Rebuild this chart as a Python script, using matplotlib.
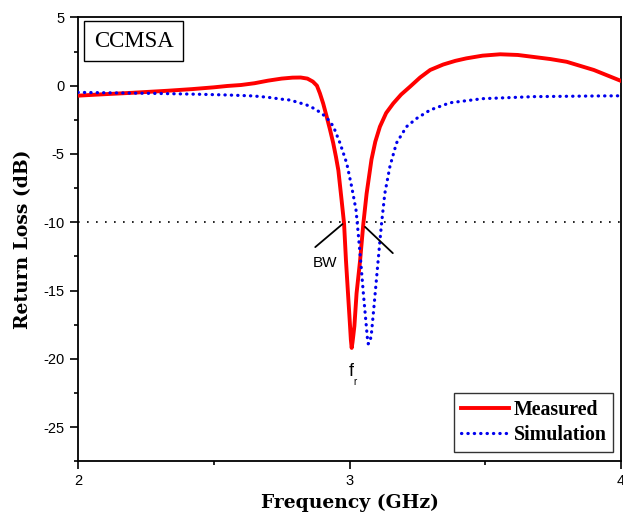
import matplotlib
matplotlib.use("Agg")
import matplotlib.pyplot as plt
from matplotlib.ticker import MultipleLocator

plt.rcParams["axes.unicode_minus"] = False

# Measured return loss (GHz, dB)
meas_f = [2.00, 2.10, 2.20, 2.33, 2.42, 2.50, 2.55, 2.60, 2.65, 2.70, 2.75, 2.79, 2.82,
          2.845, 2.865, 2.880, 2.891, 2.903, 2.916, 2.928, 2.940, 2.950, 2.959, 2.971, 2.980,
          2.987, 2.996, 3.002, 3.005, 3.008, 3.011, 3.014, 3.018, 3.026, 3.039, 3.051, 3.063,
          3.081, 3.095, 3.112, 3.135, 3.161, 3.19, 3.223, 3.26, 3.297, 3.345, 3.39,
          3.43, 3.49, 3.555, 3.62, 3.68, 3.74, 3.80, 3.85, 3.90, 3.95, 4.00]
meas_db = [-0.73, -0.62, -0.52, -0.37, -0.25, -0.12, -0.02, 0.05, 0.18, 0.37, 0.52, 0.59, 0.60,
           0.52, 0.30, 0.0, -0.56, -1.3, -2.27, -3.2, -4.2, -5.2, -6.2, -8.4, -10.1,
           -12.8, -15.7, -17.6, -18.6, -19.2, -18.8, -18.3, -17.6, -15.2, -12.8, -10.1, -7.9,
           -5.4, -4.1, -3.0, -2.0, -1.3, -0.65, -0.07, 0.6, 1.15, 1.55, 1.82,
           2.0, 2.2, 2.3, 2.25, 2.1, 1.95, 1.75, 1.45, 1.15, 0.75, 0.35]

# Simulated return loss (GHz, dB)
sim_f = [2.00, 2.15, 2.30, 2.45, 2.55, 2.645, 2.70, 2.755, 2.781, 2.842, 2.875, 2.904,
         2.925, 2.941, 2.965, 2.99, 3.008, 3.024, 3.032, 3.041, 3.051, 3.061, 3.066, 3.069,
         3.073, 3.077, 3.081, 3.09, 3.10, 3.11, 3.118, 3.13, 3.149, 3.173, 3.21, 3.247,
         3.297, 3.37, 3.49, 3.68, 3.92, 4.00]
sim_db = [-0.49, -0.53, -0.57, -0.63, -0.68, -0.75, -0.85, -1.0, -1.05, -1.41, -1.72, -2.14,
          -2.55, -3.0, -4.2, -5.7, -7.4, -9.1, -10.8, -12.8, -15.2, -17.4, -18.5, -18.9,
          -18.85, -18.6, -18.1, -16.2, -14.0, -11.8, -10.1, -7.9, -5.9, -4.2, -3.0, -2.4,
          -1.78, -1.25, -0.95, -0.8, -0.75, -0.74]

x_ticks = [2, 3, 4]
y_ticks = [5, 0, -5, -10, -15, -20, -25]
ref_level = -10

fig = plt.figure(figsize=(6.23, 5.15), dpi=100)
ax = fig.add_axes([0.1252, 0.1043, 0.8716, 0.8619])

ax.plot(meas_f, meas_db, color="#ff0000", lw=2.8, label="Measured", zorder=3,
        solid_joinstyle="round")
ax.plot(sim_f, sim_db, color="#0000ee", lw=2.3, linestyle=(0, (0.1, 1.9)),
        dash_capstyle="round", label="Simulation", zorder=3)
ax.axhline(ref_level, color="black", lw=1.2, linestyle=(0, (1, 4.4)), zorder=2)

ax.set_xlim(2, 4)
ax.set_ylim(-27.5, 5)
ax.set_xticks(x_ticks)
ax.set_yticks(y_ticks)
ax.xaxis.set_minor_locator(MultipleLocator(0.5))
ax.yaxis.set_minor_locator(MultipleLocator(2.5))
ax.tick_params(which="both", direction="out", top=False, right=False, width=1.2)
ax.tick_params(which="major", length=5.5, pad=4,
               labelsize=10.5, labelfontfamily="Liberation Sans")
ax.tick_params(which="minor", length=3)
for s in ax.spines.values():
    s.set_linewidth(1.3)

ax.set_xlabel("Frequency (GHz)", fontsize=13.5, fontweight="bold",
              family="DejaVu Serif", labelpad=4)
ax.set_ylabel("Return Loss (dB)", fontsize=13.5, fontweight="bold",
              family="DejaVu Serif", labelpad=8)

# Annotations
ax.text(0.0295, 0.9466, "CCMSA", transform=ax.transAxes, family="Liberation Serif",
        fontsize=16.5, va="center", ha="left",
        bbox=dict(boxstyle="square,pad=0.42", fc="white", ec="black", lw=1.0))
ax.annotate("", xy=(2.982, -10), xytext=(2.866, -11.95),
            arrowprops=dict(arrowstyle="-", color="black", lw=1.3))
ax.annotate("", xy=(3.05, -10.2), xytext=(3.167, -12.4),
            arrowprops=dict(arrowstyle="-", color="black", lw=1.3))
ax.text(2.91, -13.0, "BW", family="Liberation Sans", fontsize=11, ha="center", va="center")
ax.text(3.005, -20.9, "f", family="Liberation Sans", fontsize=13, ha="center", va="center")
ax.text(3.022, -21.7, "r", family="Liberation Sans", fontsize=7, ha="center", va="center")

leg = ax.legend(loc="lower right", prop=dict(family="Liberation Serif", weight="bold", size=14.3),
                frameon=True, fancybox=False, edgecolor="black", handlelength=2.46,
                handletextpad=0.2, borderpad=0.35, labelspacing=0.25,
                borderaxespad=0, bbox_to_anchor=(0.9858, 0.0216))
leg.get_frame().set_linewidth(1.0)

fig.savefig("out.png", dpi=100)
